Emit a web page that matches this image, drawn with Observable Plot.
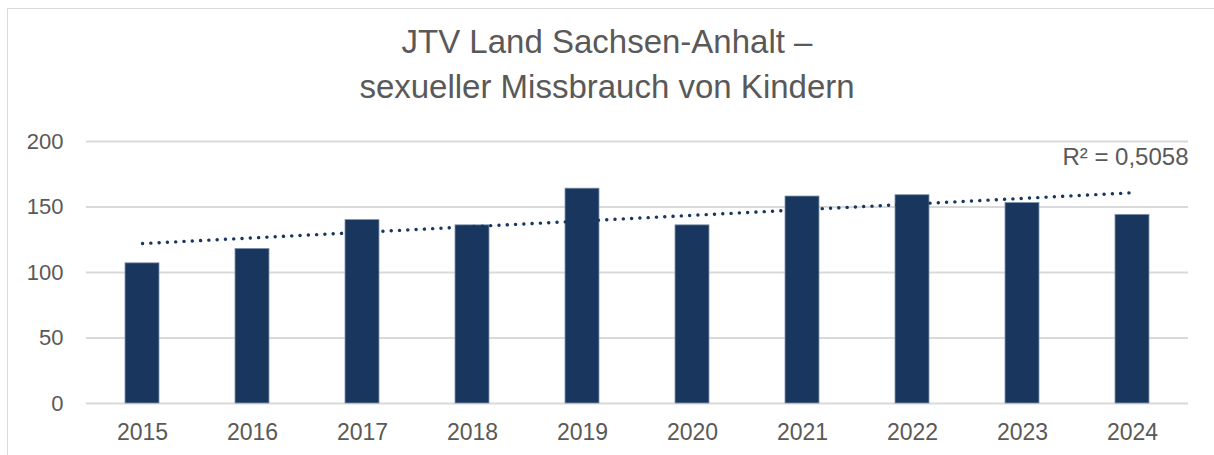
<!DOCTYPE html>
<html>
<head>
<meta charset="utf-8">
<script src="https://cdn.jsdelivr.net/npm/d3@7"></script>
<script src="https://cdn.jsdelivr.net/npm/@observablehq/plot@0.6"></script>
<style>
  html, body { margin: 0; padding: 0; background: #fff; }
  body { width: 1214px; height: 455px; overflow: hidden; position: relative; font-family: "Liberation Sans", Arial, sans-serif; }
  #frame { position: absolute; left: 7px; top: 8px; right: -2px; bottom: -2px; border-left: 1.5px solid #d9d9d9; border-top: 1.5px solid #d9d9d9; pointer-events: none; }
  #title { height: 120px; box-sizing: border-box; padding-top: 19px; text-align: center; color: #595959; font-size: 33px; line-height: 45px; }
  #chart svg { display: block; }
</style>
</head>
<body>
<div id="frame"></div>
<div id="title">JTV Land Sachsen-Anhalt –<br>sexueller Missbrauch von Kindern</div>
<div id="chart"></div>
<script>
const years = ["2015","2016","2017","2018","2019","2020","2021","2022","2023","2024"];
const cases = [107, 118, 140, 136, 164, 136, 158, 159, 153, 144];
const yTicks = [0, 50, 100, 150, 200];

const rows = years.map((y, i) => ({year: y, value: cases[i], i}));

// Linear least-squares trend (Excel trendline), computed from the data
const mx = d3.mean(rows, d => d.i), my = d3.mean(cases);
const sxy = d3.sum(rows, d => (d.i - mx) * (d.value - my));
const sxx = d3.sum(rows, d => (d.i - mx) ** 2);
const slope = sxy / sxx, intercept = my - slope * mx;
const trend = rows.map(d => ({year: d.year, t: intercept + slope * d.i}));
const sst = d3.sum(cases, v => (v - my) ** 2);
const r2 = (slope * slope * sxx) / sst;
const r2Label = "R² = " + r2.toFixed(4).replace(".", ",");

const chart = Plot.plot({
  width: 1214,
  height: 335,
  marginTop: 21,
  marginBottom: 52,
  marginLeft: 86,
  marginRight: 26,
  style: {fontFamily: "'Liberation Sans', Arial, sans-serif", fontSize: "22px", color: "#595959", background: "#fff"},
  x: {domain: years, paddingInner: 0.69, paddingOuter: 0.345, label: null},
  y: {domain: [0, 200], ticks: yTicks, label: null},
  marks: [
    Plot.gridY(yTicks, {stroke: "#d9d9d9", strokeOpacity: 1, strokeWidth: 1.8}),
    Plot.barY(rows, {x: "year", y: "value", fill: "#19375e", stroke: "#7f93ae", strokeWidth: 0.8}),
    Plot.line(trend, {x: "year", y: "t", stroke: "#19375e", strokeWidth: 3.4, strokeDasharray: "0.1 8.2", strokeLinecap: "round"}),
    Plot.text([r2Label], {frameAnchor: "top-right", text: d => d, dx: 0, dy: 6, fill: "#595959", fontSize: 24, textAnchor: "end", lineAnchor: "top"}),
    Plot.axisX({tickSize: 0, tickPadding: 20, fontSize: 23, fill: "#595959", label: null}),
    Plot.axisY({ticks: yTicks, tickSize: 0, tickPadding: 23, fontSize: 22, fill: "#595959", label: null})
  ]
});
document.getElementById("chart").appendChild(chart);
</script>
</body>
</html>
